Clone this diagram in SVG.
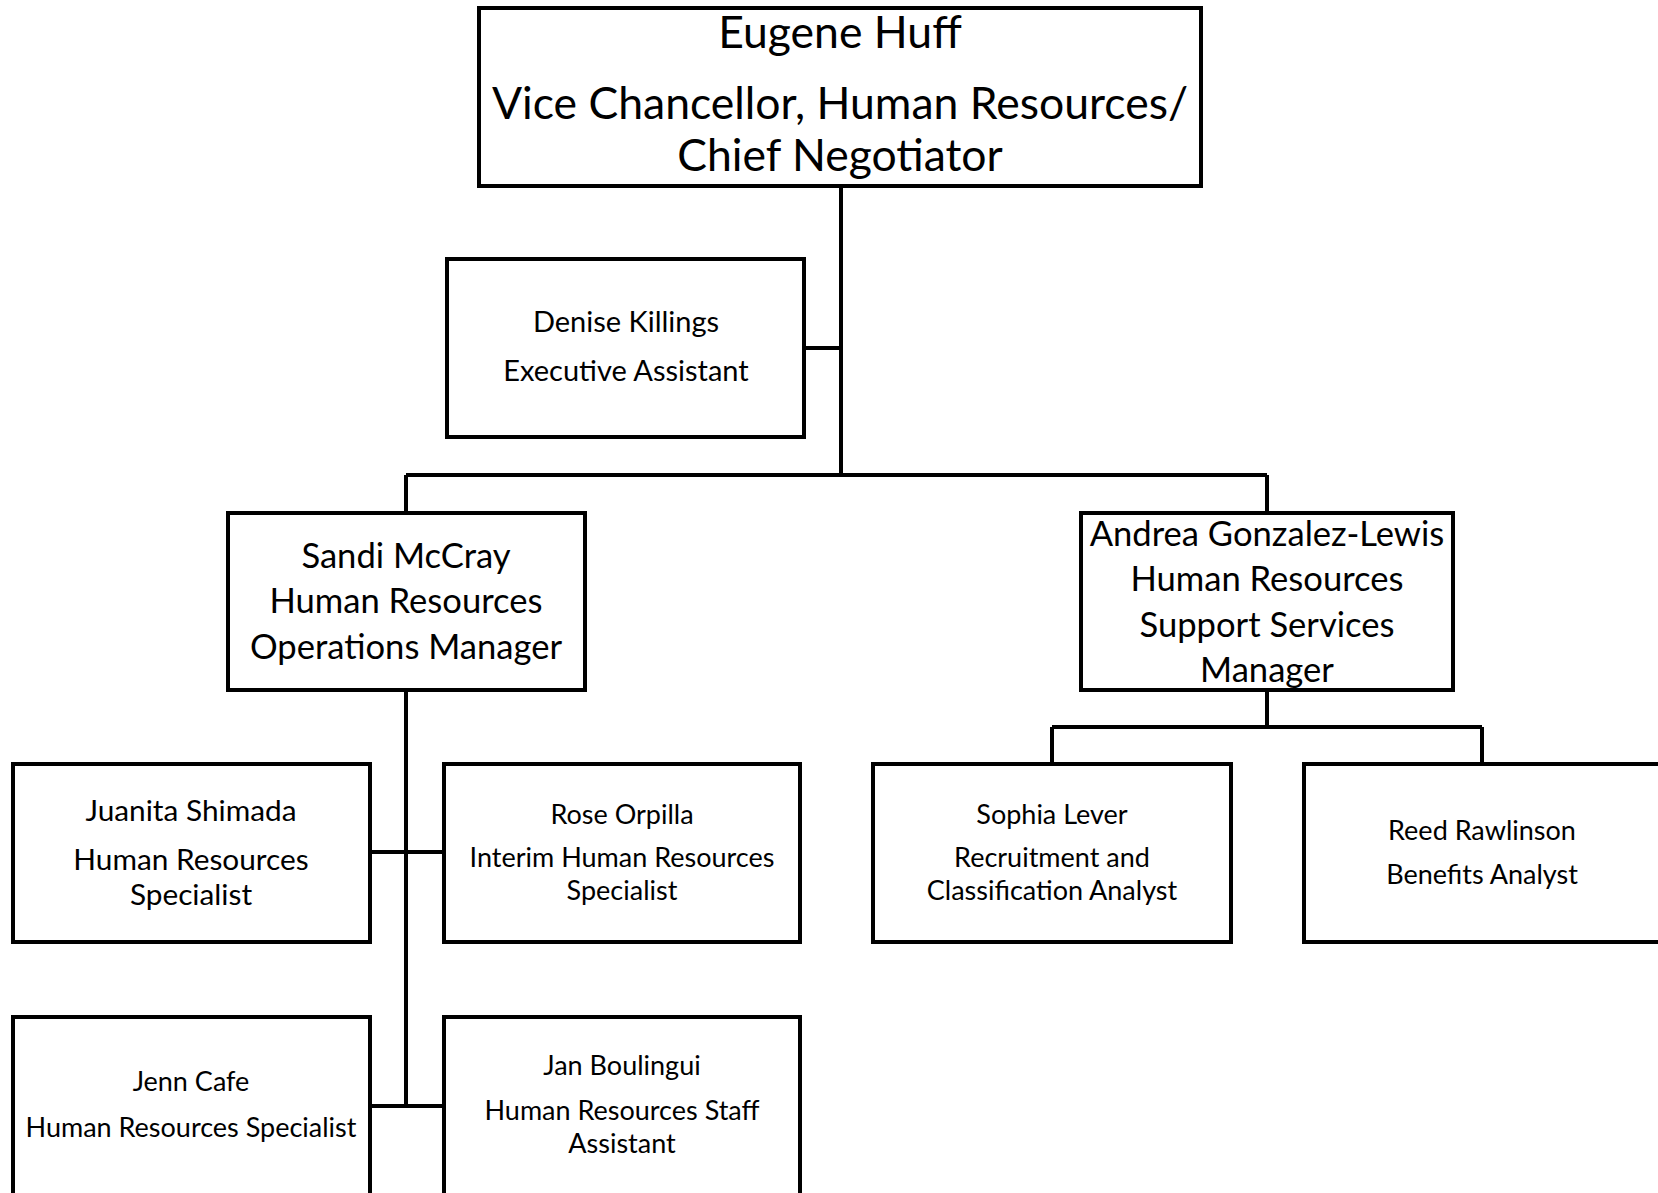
<svg xmlns="http://www.w3.org/2000/svg" width="1658" height="1193" viewBox="0 0 1658 1193">
<style>
.box{fill:#fff;stroke:#000;stroke-width:4}
.ln{fill:none;stroke:#000;stroke-width:4}
text{font-family:Lato,"Open Sans","Liberation Sans",sans-serif;fill:#000;text-anchor:middle}
.t1{font-size:44.5px}
.t2{font-size:34.6px}
.t3{font-size:29px}
.t4{font-size:27px}
.t5{font-size:29.8px}
</style>
<rect width="1658" height="1193" fill="#fff"/>
<g id="connectors">
<path class="ln" d="M841 186V475M804 348H841M406 475H1267M406 475V513M1267 475V513"/>
<path class="ln" d="M406 690V1106M370 852H444M370 1106H444"/>
<path class="ln" d="M1267 690V727M1052 727H1482M1052 727V764M1482 727V764"/>
</g>
<g id="eugene"><rect class="box" x="479" y="8" width="722" height="178"/>
<text class="t1" x="840" y="48">Eugene Huff</text>
<text class="t1" x="840" y="119">Vice Chancellor, Human Resources/</text>
<text class="t1" x="840" y="171">Chief Negotiator</text></g>
<g id="denise"><rect class="box" x="447" y="259" width="357" height="178"/>
<text class="t3" x="626" y="332">Denise Killings</text>
<text class="t3" x="626" y="381">Executive Assistant</text></g>
<g id="sandi"><rect class="box" x="228" y="513" width="357" height="177"/>
<text class="t2" x="406" y="568">Sandi McCray</text>
<text class="t2" x="406" y="613">Human Resources</text>
<text class="t2" x="406" y="659">Operations Manager</text></g>
<g id="andrea"><rect class="box" x="1081" y="513" width="372" height="177"/>
<text class="t2" x="1267" y="546">Andrea Gonzalez-Lewis</text>
<text class="t2" x="1267" y="591">Human Resources</text>
<text class="t2" x="1267" y="637">Support Services</text>
<text class="t2" x="1267" y="682">Manager</text></g>
<g id="juanita"><rect class="box" x="13" y="764" width="357" height="178"/>
<text class="t5" x="191" y="821">Juanita Shimada</text>
<text class="t5" x="191" y="870">Human Resources</text>
<text class="t5" x="191" y="905">Specialist</text></g>
<g id="rose"><rect class="box" x="444" y="764" width="356" height="178"/>
<text class="t4" x="622" y="824">Rose Orpilla</text>
<text class="t4" x="622" y="867">Interim Human Resources</text>
<text class="t4" x="622" y="900">Specialist</text></g>
<g id="sophia"><rect class="box" x="873" y="764" width="358" height="178"/>
<text class="t4" x="1052" y="824">Sophia Lever</text>
<text class="t4" x="1052" y="867">Recruitment and</text>
<text class="t4" x="1052" y="900">Classification Analyst</text></g>
<g id="reed"><rect class="box" x="1304" y="764" width="358" height="178"/>
<text class="t4" x="1482" y="840">Reed Rawlinson</text>
<text class="t4" x="1482" y="884">Benefits Analyst</text></g>
<g id="jenn"><rect class="box" x="13" y="1017" width="357" height="180"/>
<text class="t4" x="191" y="1091">Jenn Cafe</text>
<text class="t4" x="191" y="1137">Human Resources Specialist</text></g>
<g id="jan"><rect class="box" x="444" y="1017" width="356" height="180"/>
<text class="t4" x="622" y="1075">Jan Boulingui</text>
<text class="t4" x="622" y="1120">Human Resources Staff</text>
<text class="t4" x="622" y="1153">Assistant</text></g>
</svg>
